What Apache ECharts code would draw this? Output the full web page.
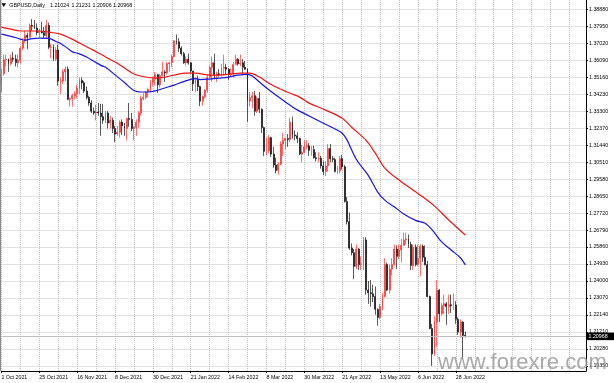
<!DOCTYPE html>
<html><head><meta charset="utf-8">
<script src="https://cdn.jsdelivr.net/npm/echarts@6/dist/echarts.min.js"></script>
<style>html,body{margin:0;padding:0;background:#fff}#c{width:614px;height:383px}</style>
</head><body><div id="c"></div>
<script>
// ---------- data ----------
const symbolTitle = 'GBPUSD,Daily';
const firstDate = '2021-10-01';          // first daily bar
const slotCount = 248;                    // bars + empty right shift area
const dateTickLabels = ['1 Oct 2021','25 Oct 2021','16 Nov 2021','8 Dec 2021','30 Dec 2021','21 Jan 2022','14 Feb 2022','8 Mar 2022','30 Mar 2022','21 Apr 2022','13 May 2022','6 Jun 2022','28 Jun 2022'];
const priceTicks = [1.19350,1.20280,1.21210,1.22140,1.23070,1.24000,1.24930,1.25860,1.26790,1.27720,1.28650,1.29580,1.30510,1.31440,1.32370,1.33300,1.34230,1.35160,1.36090,1.37020,1.37950,1.38880];
const priceMin = 1.19070, priceMax = 1.39389;

// daily bars [open, high, low, close]
const bars = [
// Oct 2021
[1.3475,1.3562,1.3435,1.3535],[1.3535,1.3640,1.3525,1.3612],[1.3612,1.3640,1.3575,1.3615],[1.3615,1.3618,1.3545,1.3590],[1.3590,1.3640,1.3580,1.3620],
[1.3620,1.3655,1.3600,1.3615],[1.3615,1.3640,1.3575,1.3595],[1.3595,1.3640,1.3570,1.3610],[1.3610,1.3685,1.3590,1.3675],[1.3675,1.3730,1.3665,1.3715],
[1.3715,1.3770,1.3705,1.3745],[1.3745,1.3760,1.3670,1.3735],[1.3735,1.3810,1.3730,1.3800],[1.3800,1.3835,1.3770,1.3795],[1.3795,1.3830,1.3780,1.3785],
[1.3785,1.3810,1.3745,1.3760],[1.3760,1.3780,1.3735,1.3765],[1.3765,1.3820,1.3755,1.3760],[1.3760,1.3790,1.3730,1.3745],[1.3745,1.3830,1.3730,1.3800],
[1.3800,1.3815,1.3670,1.3680],
// Nov 2021
[1.3680,1.3700,1.3620,1.3682],[1.3682,1.3695,1.3605,1.3615],[1.3615,1.3680,1.3605,1.3665],[1.3665,1.3695,1.3470,1.3495],[1.3495,1.3515,1.3425,1.3495],
[1.3495,1.3560,1.3480,1.3545],[1.3545,1.3575,1.3495,1.3560],[1.3560,1.3575,1.3390,1.3395],[1.3395,1.3405,1.3355,1.3400],[1.3400,1.3425,1.3355,1.3415],
[1.3415,1.3440,1.3395,1.3425],[1.3425,1.3475,1.3400,1.3455],[1.3455,1.3515,1.3425,1.3500],[1.3500,1.3515,1.3450,1.3485],[1.3485,1.3495,1.3430,1.3440],
[1.3440,1.3465,1.3395,1.3405],[1.3405,1.3415,1.3360,1.3375],[1.3375,1.3390,1.3320,1.3330],[1.3330,1.3350,1.3310,1.3320],[1.3320,1.3365,1.3280,1.3325],
[1.3325,1.3375,1.3305,1.3320],[1.3320,1.3370,1.3195,1.3300],
// Dec 2021
[1.3300,1.3370,1.3260,1.3280],[1.3280,1.3330,1.3265,1.3320],[1.3320,1.3330,1.3235,1.3265],[1.3265,1.3305,1.3235,1.3280],[1.3280,1.3295,1.3210,1.3235],
[1.3235,1.3250,1.3160,1.3205],[1.3205,1.3250,1.3195,1.3215],[1.3215,1.3280,1.3185,1.3270],[1.3270,1.3285,1.3200,1.3250],[1.3250,1.3265,1.3195,1.3235],
[1.3235,1.3295,1.3170,1.3290],[1.3290,1.3375,1.3245,1.3285],[1.3285,1.3320,1.3220,1.3235],[1.3235,1.3250,1.3170,1.3240],[1.3240,1.3285,1.3195,1.3270],
[1.3270,1.3330,1.3240,1.3320],[1.3320,1.3415,1.3305,1.3400],[1.3400,1.3430,1.3390,1.3405],[1.3405,1.3440,1.3395,1.3435],[1.3435,1.3455,1.3405,1.3450],
[1.3450,1.3500,1.3440,1.3490],[1.3490,1.3520,1.3465,1.3505],[1.3505,1.3545,1.3470,1.3530],
// Jan 2022
[1.3530,1.3535,1.3430,1.3475],[1.3475,1.3535,1.3460,1.3525],[1.3525,1.3600,1.3520,1.3545],[1.3545,1.3555,1.3490,1.3540],[1.3540,1.3600,1.3530,1.3590],
[1.3590,1.3600,1.3545,1.3595],[1.3595,1.3640,1.3570,1.3630],[1.3630,1.3720,1.3625,1.3715],[1.3715,1.3750,1.3695,1.3710],[1.3710,1.3730,1.3655,1.3675],
[1.3675,1.3685,1.3635,1.3645],[1.3645,1.3655,1.3590,1.3595],[1.3595,1.3630,1.3580,1.3615],[1.3615,1.3645,1.3585,1.3595],[1.3595,1.3600,1.3540,1.3550],
[1.3550,1.3550,1.3440,1.3480],[1.3480,1.3515,1.3435,1.3500],[1.3500,1.3525,1.3440,1.3465],[1.3465,1.3470,1.3358,1.3385],[1.3385,1.3415,1.3360,1.3410],
[1.3410,1.3450,1.3400,1.3445],
// Feb 2022
[1.3445,1.3530,1.3430,1.3515],[1.3515,1.3580,1.3510,1.3570],[1.3570,1.3630,1.3490,1.3595],[1.3595,1.3645,1.3505,1.3530],[1.3530,1.3545,1.3490,1.3535],
[1.3535,1.3560,1.3520,1.3530],[1.3530,1.3590,1.3520,1.3565],[1.3565,1.3640,1.3525,1.3570],[1.3570,1.3590,1.3530,1.3560],[1.3560,1.3565,1.3500,1.3530],
[1.3530,1.3565,1.3520,1.3535],[1.3535,1.3600,1.3515,1.3585],[1.3585,1.3640,1.3585,1.3615],[1.3615,1.3620,1.3580,1.3590],[1.3590,1.3640,1.3575,1.3595],
[1.3595,1.3615,1.3535,1.3570],[1.3570,1.3605,1.3555,1.3560],[1.3560,1.3565,1.3272,1.3385],[1.3385,1.3435,1.3355,1.3405],[1.3405,1.3435,1.3345,1.3415],
// Mar 2022
[1.3415,1.3440,1.3305,1.3330],[1.3330,1.3410,1.3320,1.3400],[1.3400,1.3435,1.3320,1.3340],[1.3340,1.3345,1.3210,1.3240],[1.3240,1.3245,1.3085,1.3110],
[1.3110,1.3185,1.3090,1.3115],[1.3115,1.3200,1.3100,1.3185],[1.3185,1.3190,1.3080,1.3095],[1.3095,1.3135,1.3020,1.3035],[1.3035,1.3075,1.2990,1.3005],
[1.3005,1.3050,1.2982,1.3040],[1.3040,1.3165,1.3035,1.3150],[1.3150,1.3210,1.3085,1.3170],[1.3170,1.3185,1.3120,1.3180],[1.3180,1.3205,1.3135,1.3175],
[1.3175,1.3295,1.3160,1.3270],[1.3270,1.3300,1.3180,1.3200],[1.3200,1.3225,1.3170,1.3195],[1.3195,1.3215,1.3155,1.3180],[1.3180,1.3185,1.3090,1.3095],
[1.3095,1.3145,1.3050,1.3105],[1.3105,1.3170,1.3100,1.3135],[1.3135,1.3170,1.3120,1.3140],
// Apr 2022
[1.3140,1.3155,1.3085,1.3115],[1.3115,1.3140,1.3085,1.3120],[1.3120,1.3140,1.3070,1.3075],[1.3075,1.3105,1.3055,1.3070],[1.3070,1.3105,1.3050,1.3072],
[1.3072,1.3085,1.3015,1.3030],[1.3030,1.3055,1.2980,1.3000],[1.3000,1.3055,1.2975,1.3030],[1.3030,1.3150,1.3000,1.3125],[1.3125,1.3150,1.3050,1.3070],
[1.3070,1.3085,1.3050,1.3065],[1.3065,1.3075,1.2995,1.3000],[1.3000,1.3030,1.2985,1.3003],[1.3003,1.3085,1.2990,1.3070],[1.3070,1.3090,1.3010,1.3025],
[1.3025,1.3035,1.2830,1.2835],[1.2835,1.2860,1.2710,1.2725],[1.2725,1.2775,1.2570,1.2580],[1.2580,1.2605,1.2540,1.2555],[1.2555,1.2575,1.2410,1.2480],
[1.2480,1.2600,1.2465,1.2575],
// May 2022
[1.2575,1.2580,1.2460,1.2490],[1.2490,1.2535,1.2460,1.2495],[1.2495,1.2640,1.2460,1.2625],[1.2625,1.2640,1.2325,1.2350],[1.2350,1.2400,1.2275,1.2335],
[1.2335,1.2405,1.2260,1.2330],[1.2330,1.2380,1.2285,1.2315],[1.2315,1.2370,1.2215,1.2245],[1.2245,1.2250,1.2155,1.2200],[1.2200,1.2275,1.2190,1.2260],
[1.2260,1.2335,1.2240,1.2315],[1.2315,1.2525,1.2310,1.2490],[1.2490,1.2500,1.2345,1.2350],[1.2350,1.2490,1.2330,1.2465],[1.2465,1.2525,1.2430,1.2490],
[1.2490,1.2600,1.2485,1.2575],[1.2575,1.2595,1.2465,1.2535],[1.2535,1.2600,1.2520,1.2570],[1.2570,1.2630,1.2500,1.2595],[1.2595,1.2665,1.2595,1.2625],
[1.2625,1.2665,1.2600,1.2630],[1.2630,1.2655,1.2580,1.2600],
// Jun 2022
[1.2600,1.2615,1.2460,1.2485],[1.2485,1.2600,1.2460,1.2585],[1.2585,1.2600,1.2480,1.2490],[1.2490,1.2600,1.2480,1.2525],[1.2525,1.2600,1.2425,1.2590],
[1.2590,1.2600,1.2505,1.2530],[1.2530,1.2595,1.2485,1.2490],[1.2490,1.2510,1.2310,1.2315],[1.2315,1.2320,1.2135,1.2140],[1.2140,1.2165,1.1935,1.2000],
[1.2000,1.2205,1.1990,1.2175],[1.2175,1.2405,1.2040,1.2350],[1.2350,1.2355,1.2175,1.2220],[1.2220,1.2280,1.2210,1.2265],[1.2265,1.2325,1.2220,1.2275],
[1.2275,1.2285,1.2160,1.2260],[1.2260,1.2325,1.2220,1.2270],[1.2270,1.2325,1.2225,1.2265],[1.2265,1.2330,1.2240,1.2268],[1.2268,1.2290,1.2165,1.2190],
[1.2190,1.2200,1.2105,1.2120],[1.2120,1.2190,1.2090,1.2175],
// Jul 2022
[1.2175,1.2180,1.1975,1.2102],[1.21024,1.21231,1.20906,1.20968]
];

// moving averages: [bar index, price]
const blueMA = [[0,1.3752],[4,1.3740],[8,1.3725],[10,1.3719],[12,1.3725],[16,1.3730],[20,1.3729],[23,1.3712],[25,1.3701],[28,1.3674],[30,1.3655],[33,1.3644],[36,1.3627],[39,1.3604],[42,1.3581],[44,1.3570],[48,1.3529],[52,1.3487],[56,1.3443],[59,1.3435],[62,1.3435],[65,1.3441],[69,1.3457],[73,1.3473],[77,1.3492],[82,1.3508],[84,1.3503],[88,1.3506],[92,1.3511],[96,1.3517],[100,1.3527],[104,1.3532],[106,1.3523],[109,1.3490],[113,1.3447],[118,1.3399],[122,1.3362],[125,1.3337],[133,1.3284],[140,1.3239],[144,1.3209],[146,1.3173],[150,1.3065],[155,1.2978],[159,1.2887],[162,1.2843],[166,1.2806],[170,1.2767],[175,1.2732],[179,1.2716],[182,1.2680],[186,1.2614],[190,1.2570],[194,1.2526],[196,1.2488]];
const redMA = [[0,1.3790],[4,1.3779],[8,1.3769],[12,1.3769],[16,1.3769],[20,1.3763],[25,1.3752],[29,1.3730],[33,1.3703],[37,1.3676],[40,1.3656],[44,1.3627],[48,1.3599],[52,1.3567],[56,1.3534],[61,1.3517],[65,1.3511],[69,1.3517],[73,1.3528],[78,1.3538],[82,1.3538],[88,1.3528],[92,1.3528],[97,1.3533],[101,1.3538],[105,1.3538],[109,1.3517],[113,1.3483],[118,1.3450],[122,1.3428],[126,1.3407],[130,1.3374],[137,1.3336],[144,1.3291],[148,1.3242],[154,1.3171],[158,1.3100],[162,1.3018],[168,1.2953],[177,1.2870],[183,1.2810],[189,1.2734],[196,1.2652]];

// ---------- build ----------
const categories = [];
(function(){
  const d = new Date(firstDate + 'T00:00:00Z');
  while (categories.length < slotCount) {
    const wd = d.getUTCDay();
    if (wd !== 0 && wd !== 6) categories.push(d.toISOString().slice(0,10));
    d.setUTCDate(d.getUTCDate() + 1);
  }
})();
const candleData = bars.map(b => [b[0], b[3], b[2], b[1]]);
const last = bars[bars.length - 1];
const FONT = 'Liberation Sans';
const FS = 5.3;
const isDateTick = i => i % 16 === 0 && (i / 16) < dateTickLabels.length;

const chart = echarts.init(document.getElementById('c'), null, {renderer: 'canvas', width: 614, height: 383});
chart.setOption({
  animation: false,
  backgroundColor: '#ffffff',
  grid: {left: 1.4, right: 28, top: 0, bottom: 12, containLabel: false, outerBoundsMode: 'none'},
  xAxis: {
    type: 'category', data: categories, boundaryGap: false,
    axisLine: {show: true, onZero: false, lineStyle: {color: '#000', width: 1}},
    axisTick: {show: true, interval: isDateTick, length: 2, lineStyle: {color: '#000'}},
    axisLabel: {interval: isDateTick, formatter: (v, i) => dateTickLabels[i / 16] || '', align: 'left',
      fontSize: FS, fontFamily: FONT, color: '#000', margin: 4},
    splitLine: {show: true, interval: i => i % 8 === 0, lineStyle: {color: '#c4c4c4', width: 1, type: [1, 1]}}
  },
  yAxis: {
    type: 'value', position: 'right', min: priceMin, max: priceMax, scale: true,
    axisLine: {show: true, lineStyle: {color: '#000', width: 1}},
    axisTick: {show: true, customValues: priceTicks, length: 2, lineStyle: {color: '#000'}},
    axisLabel: {customValues: priceTicks, formatter: v => v.toFixed(5), fontSize: FS, fontFamily: FONT, color: '#000', margin: 3},
    splitLine: {show: true, lineStyle: {color: '#c4c4c4', width: 1, type: [1, 1]}}
  },
  series: [
    {
      type: 'candlestick', data: candleData, barWidth: 1.4, clip: false, z: 2,
      itemStyle: {color: '#ff1a1a', color0: '#000000', borderColor: '#ff3333', borderColor0: '#111111', borderWidth: 0.7},
      markLine: {silent: true, symbol: 'none', label: {show: false}, animation: false,
        lineStyle: {color: '#bdbdbd', type: 'solid', width: 1}, data: [{yAxis: last[3]}]}
    },
    {type: 'line', data: redMA, symbol: 'none', smooth: 0.35, z: 4, lineStyle: {color: '#f01414', width: 1.2}},
    {type: 'line', data: blueMA, symbol: 'none', smooth: 0.35, z: 4, lineStyle: {color: '#1616e0', width: 1.2}}
  ]
});

const py = chart.convertToPixel({yAxisIndex: 0}, last[3]);
const hdr = [symbolTitle, last[0].toFixed(5), last[1].toFixed(5), last[2].toFixed(5), last[3].toFixed(5)];
const hdrX = [9.3, 50, 71.5, 92.5, 113];
const g = [
  {type: 'line', shape: {x1: 0.5, y1: 0, x2: 0.5, y2: 371}, style: {stroke: '#8a8a8a', lineWidth: 1}, z: 10},
  {type: 'polygon', shape: {points: [[1.5, 3.2], [6, 3.2], [3.75, 7]]}, style: {fill: '#000'}, z: 10},
  {type: 'text', x: 438, y: 373.5, style: {text: 'www.forexre.com', font: '22px "Liberation Sans"', fill: '#9a9a9a', opacity: 0.85, textVerticalAlign: 'bottom', verticalAlign: 'alphabetic'}, z: 20},
  {type: 'rect', shape: {x: 586, y: py - 3.8, width: 28, height: 7.6}, style: {fill: '#000'}, z: 30},
  {type: 'text', x: 588.5, y: py, style: {text: last[3].toFixed(5), font: FS + 'px "' + FONT + '"', fill: '#fff', verticalAlign: 'middle'}, z: 31}
];
hdr.forEach((t, i) => g.push({type: 'text', x: hdrX[i], y: 5.2, style: {text: t, font: FS + 'px "' + FONT + '"', fill: '#000', verticalAlign: 'middle'}, z: 10}));
chart.setOption({graphic: {elements: g}});
</script>
</body></html>
